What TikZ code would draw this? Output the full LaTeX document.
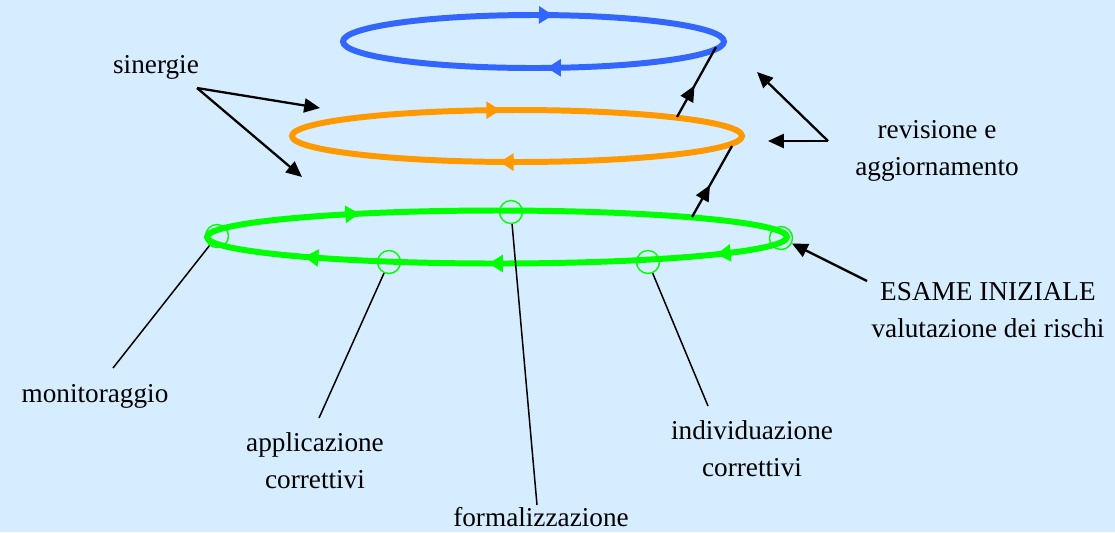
\documentclass[tikz,border=0pt]{standalone}
\usepackage{fontspec}
\setmainfont{Liberation Serif}
\usetikzlibrary{arrows.meta,decorations.markings}
\definecolor{bgblue}{RGB}{214,236,255}
\definecolor{ringblue}{RGB}{51,102,255}
\definecolor{ringorange}{RGB}{255,153,0}
\definecolor{ringgreen}{RGB}{0,255,0}
\tikzset{
  ringtip/.tip={Triangle[length=8pt,width=9.5pt]},
  ring/.style={line width=3.4pt},
  spot/.style={circle, draw=ringgreen, line width=0.8pt, minimum size=0.46cm, inner sep=0pt},
  leader/.style={line width=0.85pt},
  pointer/.style={line width=1.3pt, -{Triangle[length=9pt,width=8pt]}},
  midtip/.style={line width=1.3pt, postaction={decorate, decoration={markings,
    mark=at position 0.45 with {\arrow{Triangle[length=9pt,width=8pt]}}}}}
}
\begin{document}
\begin{tikzpicture}[x=0.02cm, y=-0.02cm, font=\fontsize{15.5}{21}\selectfont]
  \useasboundingbox (0,0) rectangle (1115,532);
  \fill[bgblue] (0,0) rectangle (1115,532);
  \draw[ring, ringblue, postaction={decorate, decoration={markings,
      mark=at position 0.233 with {\arrow{ringtip}},
      mark=at position 0.775 with {\arrow{ringtip}}}}]
    (533.5,41.5) ellipse [x radius=190.5, y radius=26.5];
  \draw[ring, ringorange, postaction={decorate, decoration={markings,
      mark=at position 0.269 with {\arrow{ringtip}},
      mark=at position 0.732 with {\arrow{ringtip}}}}]
    (517,136) ellipse [x radius=225, y radius=26];
  \draw[ring, ringgreen, postaction={decorate, decoration={markings,
      mark=at position 0.063 with {\arrow{ringtip}},
      mark=at position 0.257 with {\arrow{ringtip}},
      mark=at position 0.414 with {\arrow{ringtip}},
      mark=at position 0.633 with {\arrow{ringtip}}}}]
    (497,237) ellipse [x radius=290, y radius=26.5];
  \node[spot] (cL) at (217,236) {};
  \node[spot] (cT) at (511,212) {};
  \node[spot] (cA) at (389,262) {};
  \node[spot] (cI) at (648,262) {};
  \node[spot] (cR) at (781,238) {};
  \node (sin) at (156,67) {sinergie};
  \node[align=center] (rev) at (937,151) {revisione e\\aggiornamento};
  \node[align=center] (esame) at (988,310) {ESAME INIZIALE\\valutazione dei rischi};
  \node (mon) at (95,396) {monitoraggio};
  \node[align=center] (appl) at (315,461) {applicazione\\correttivi};
  \node (form) at (541,517) {formalizzazione};
  \node[align=center] (indiv) at (752,449) {individuazione\\correttivi};
  \coordinate (monEnd) at (113,368);
  \coordinate (applEnd) at (319,418);
  \coordinate (formEnd) at (537,505);
  \coordinate (indivEnd) at (708,406);
  \coordinate (esameTail) at (867,281);
  \coordinate (sinV) at (197,88);
  \coordinate (sinA) at (320,108);
  \coordinate (sinB) at (302,177);
  \coordinate (revV) at (828,141);
  \coordinate (revA) at (757,72);
  \coordinate (revB) at (768,141);
  \coordinate (g1) at (692,217);
  \coordinate (o1) at (732,146);
  \coordinate (o2) at (677,117);
  \coordinate (b1) at (716,47);
  \draw[leader] (cL) -- (monEnd);
  \draw[leader] (cA) -- (applEnd);
  \draw[leader] (cT) -- (formEnd);
  \draw[leader] (cI) -- (indivEnd);
  \draw[pointer] (esameTail) -- (cR);
  \draw[pointer] (sinV) -- (sinA);
  \draw[pointer] (sinV) -- (sinB);
  \draw[pointer] (revV) -- (revA);
  \draw[pointer] (revV) -- (revB);
  \draw[midtip] (g1) -- (o1);
  \draw[midtip] (o2) -- (b1);
\end{tikzpicture}
\end{document}
